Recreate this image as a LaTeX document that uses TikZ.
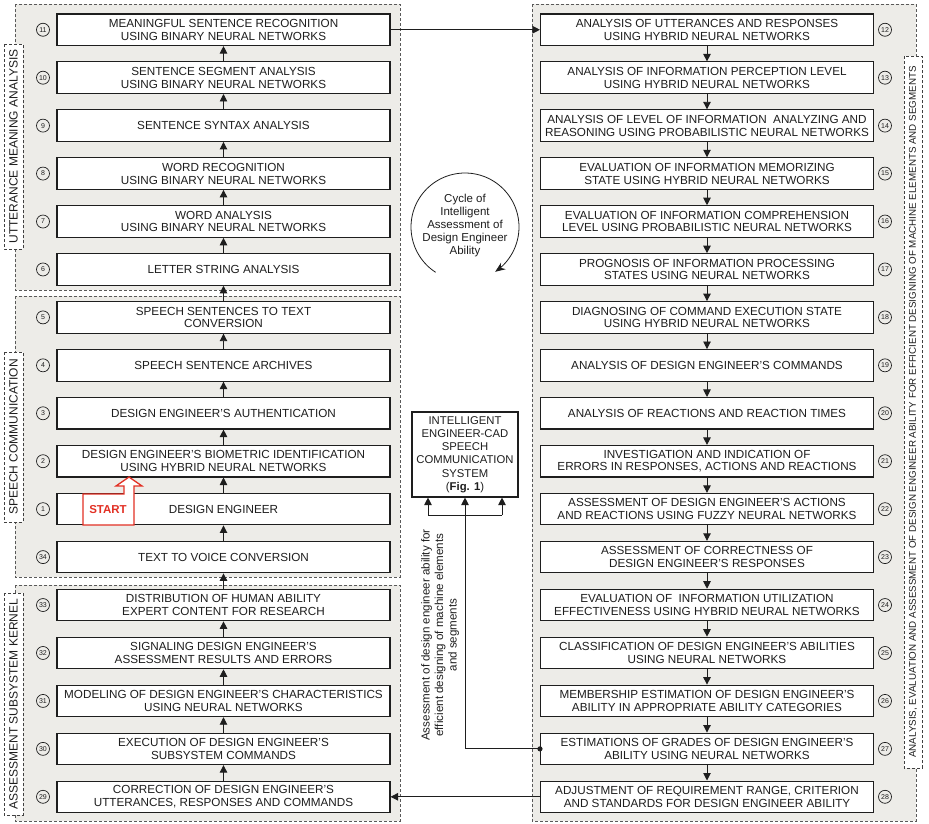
\documentclass[tikz,border=0pt]{standalone}
\usepackage{fontspec}
\setmainfont{Liberation Sans}
\usetikzlibrary{arrows.meta,calc}
\definecolor{grp}{RGB}{237,236,232}
\definecolor{startred}{RGB}{226,48,36}
\definecolor{ink}{RGB}{30,30,30}
\begin{document}
\begin{tikzpicture}[x=1pt,y=-1pt,
 box/.style={draw=ink, line width=1.1pt, fill=white, minimum width=333pt, minimum height=31.5pt, align=center, text=ink, font=\fontsize{11.7}{12.8}\selectfont, inner sep=1pt},
 num/.style={circle, draw=ink, line width=0.7pt, minimum size=13pt, inner sep=0pt, text=ink, font=\fontsize{7}{7}\selectfont},
 grpbox/.style={draw=black!65, dash pattern=on 3pt off 2pt, fill=grp, line width=0.8pt},
 lbl/.style={draw=black!75, dash pattern=on 3pt off 2pt, fill=white, line width=0.8pt, rotate=90, text=ink, font=\fontsize{12}{14}\selectfont, inner sep=0pt, minimum height=19pt},
 flow/.style={-{Triangle[length=7.5pt,width=7.5pt]}, line width=0.9pt, draw=ink},
 plain/.style={line width=0.9pt, draw=ink}
]
\useasboundingbox (0,0) rectangle (929,823);
\fill[white] (0,0) rectangle (929,823);

% groups
\draw[grpbox] (15,4) rectangle (400,290);
\draw[grpbox] (15,296) rectangle (400,577);
\draw[grpbox] (15,585) rectangle (400,821);
\draw[grpbox] (532,4) rectangle (916,821);

% group labels
\node[lbl, minimum width=205pt] (lg1) at (13.5,146.5) {UTTERANCE MEANING ANALYSIS};
\node[lbl, minimum width=170pt] (lg2) at (13.5,437) {SPEECH COMMUNICATION};
\node[lbl, minimum width=222pt] (lg3) at (13.5,704) {ASSESSMENT SUBSYSTEM KERNEL};
\node[lbl, minimum width=712pt, minimum height=18pt, font=\fontsize{9.8}{11}\selectfont] (lg4) at (913,412) {ANALYSIS, EVALUATION AND ASSESSMENT OF DESIGN ENGINEER ABILITY FOR EFFICIENT DESIGNING OF MACHINE ELEMENTS AND SEGMENTS};

% left column
\foreach \i/\n/\t in {
 0/11/{MEANINGFUL SENTENCE RECOGNITION\\USING BINARY NEURAL NETWORKS},
 1/10/{SENTENCE SEGMENT ANALYSIS\\USING BINARY NEURAL NETWORKS},
 2/9/{SENTENCE SYNTAX ANALYSIS},
 3/8/{WORD RECOGNITION\\USING BINARY NEURAL NETWORKS},
 4/7/{WORD ANALYSIS\\USING BINARY NEURAL NETWORKS},
 5/6/{LETTER STRING ANALYSIS},
 6/5/{SPEECH SENTENCES TO TEXT\\CONVERSION},
 7/4/{SPEECH SENTENCE ARCHIVES},
 8/3/{DESIGN ENGINEER'S AUTHENTICATION},
 9/2/{DESIGN ENGINEER'S BIOMETRIC IDENTIFICATION\\USING HYBRID NEURAL NETWORKS},
 10/1/{DESIGN ENGINEER},
 11/34/{TEXT TO VOICE CONVERSION},
 12/33/{DISTRIBUTION OF HUMAN ABILITY\\EXPERT CONTENT FOR RESEARCH},
 13/32/{SIGNALING DESIGN ENGINEER'S\\ASSESSMENT RESULTS AND ERRORS},
 14/31/{MODELING OF DESIGN ENGINEER'S CHARACTERISTICS\\USING NEURAL NETWORKS},
 15/30/{EXECUTION OF DESIGN ENGINEER'S\\SUBSYSTEM COMMANDS},
 16/29/{CORRECTION OF DESIGN ENGINEER'S\\UTTERANCES, RESPONSES AND COMMANDS}}
{
 \node[box] (b\n) at (223.5,{29.75+47.94*\i}) {\t};
 \node[num] (c\n) at (43,{29.75+47.94*\i}) {\n};
}

% right column
\foreach \i/\n/\t in {
 0/12/{ANALYSIS OF UTTERANCES AND RESPONSES\\USING HYBRID NEURAL NETWORKS},
 1/13/{ANALYSIS OF INFORMATION PERCEPTION LEVEL\\USING HYBRID NEURAL NETWORKS},
 2/14/{ANALYSIS OF LEVEL OF INFORMATION \ ANALYZING AND\\REASONING USING PROBABILISTIC NEURAL NETWORKS},
 3/15/{EVALUATION OF INFORMATION MEMORIZING\\STATE USING HYBRID NEURAL NETWORKS},
 4/16/{EVALUATION OF INFORMATION COMPREHENSION\\LEVEL USING PROBABILISTIC NEURAL NETWORKS},
 5/17/{PROGNOSIS OF INFORMATION PROCESSING\\STATES USING NEURAL NETWORKS},
 6/18/{DIAGNOSING OF COMMAND EXECUTION STATE\\USING HYBRID NEURAL NETWORKS},
 7/19/{ANALYSIS OF DESIGN ENGINEER'S COMMANDS},
 8/20/{ANALYSIS OF REACTIONS AND REACTION TIMES},
 9/21/{INVESTIGATION AND INDICATION OF\\ERRORS IN RESPONSES, ACTIONS AND REACTIONS},
 10/22/{ASSESSMENT OF DESIGN ENGINEER'S ACTIONS\\AND REACTIONS USING FUZZY NEURAL NETWORKS},
 11/23/{ASSESSMENT OF CORRECTNESS OF\\DESIGN ENGINEER'S RESPONSES},
 12/24/{EVALUATION OF \ INFORMATION UTILIZATION\\EFFECTIVENESS USING HYBRID NEURAL NETWORKS},
 13/25/{CLASSIFICATION OF DESIGN ENGINEER'S ABILITIES\\USING NEURAL NETWORKS},
 14/26/{MEMBERSHIP ESTIMATION OF DESIGN ENGINEER'S\\ABILITY IN APPROPRIATE ABILITY CATEGORIES},
 15/27/{ESTIMATIONS OF GRADES OF DESIGN ENGINEER'S\\ABILITY USING NEURAL NETWORKS},
 16/28/{ADJUSTMENT OF REQUIREMENT RANGE, CRITERION\\AND STANDARDS FOR DESIGN ENGINEER ABILITY}}
{
 \node[box] (b\n) at (707,{29.75+47.94*\i}) {\t};
 \node[num] (c\n) at (885,{29.75+47.94*\i}) {\n};
}

% left upward flow
\foreach \a/\b in {10/11,9/10,8/9,7/8,6/7,5/6,4/5,3/4,2/3,1/2,34/1,33/34,32/33,31/32,30/31,29/30}
 \draw[flow] (b\a.north) -- (b\b.south);
% right downward flow
\foreach \a/\b in {12/13,13/14,14/15,15/16,16/17,17/18,18/19,19/20,20/21,21/22,22/23,23/24,24/25,25/26,26/27,27/28}
 \draw[flow] (b\a.south) -- (b\b.north);

\draw[flow] (b11.east) -- (b12.west);
\draw[flow] (b28.west) -- (b29.east);

% START marker
\draw[startred, line width=1.3pt, fill=white, line join=miter]
 (83,525) -- (83,494) -- (124,494) -- (124,486) -- (116,486) -- (129,477) -- (142,486) -- (134,486) -- (134,525) -- cycle;
\node[text=startred, font=\fontsize{11.5}{12}\selectfont\bfseries] (start) at (108,510) {START};

% cycle
\node[align=center, text=ink, font=\fontsize{11.5}{13}\selectfont] (cyc) at (465,226) {Cycle of\\Intelligent\\Assessment of\\Design Engineer\\Ability};
\draw[line width=0.8pt, draw=ink, -{Stealth[length=10pt,width=8pt]}] plot[smooth, domain=123:416, samples=60] ({465+54*cos(\x)},{227+54*sin(\x)});

% Fig.1 box
\node[draw=ink, line width=1.1pt, fill=white, minimum width=106pt, minimum height=85pt, inner sep=0pt, align=center, text=ink, font=\fontsize{11.3}{13.3}\selectfont] (fig) at (465,454.5) {INTELLIGENT\\ENGINEER-CAD\\SPEECH\\COMMUNICATION\\SYSTEM\\({\bfseries Fig. 1})};

\coordinate (jl) at (428,515);
\coordinate (jr) at (502,515);
\draw[flow] (b27.west) -| (fig.south);
\fill[ink] (b27.west) circle (2.6pt);
\draw[plain] (jl) -- (jr);
\draw[flow] (jl) -- (jl |- fig.south);
\draw[flow] (jr) -- (jr |- fig.south);

\node[rotate=90, align=center, text=ink, font=\fontsize{11.6}{13.5}\selectfont] (side) at (440,635) {Assessment of design engineer ability for\\efficient designing of machine elements\\and segments};
\end{tikzpicture}
\end{document}
